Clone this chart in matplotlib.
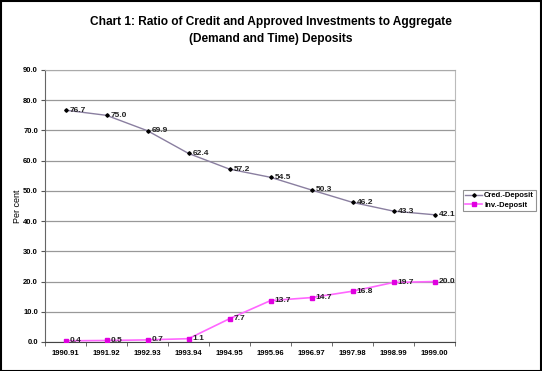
import matplotlib
matplotlib.use("Agg")
import matplotlib.pyplot as plt
from matplotlib.patches import Rectangle

plt.rcParams['font.family'] = ['Liberation Sans', 'DejaVu Sans']

years = ["1990.91", "1991.92", "1992.93", "1993.94", "1994.95", "1995.96",
         "1996.97", "1997.98", "1998.99", "1999.00"]
cred_deposit = [76.7, 75.0, 69.9, 62.4, 57.2, 54.5, 50.3, 46.2, 43.3, 42.1]
inv_deposit = [0.4, 0.5, 0.7, 1.1, 7.7, 13.7, 14.7, 16.8, 19.7, 20.0]
yticks = [0, 10, 20, 30, 40, 50, 60, 70, 80, 90]

fig = plt.figure(figsize=(5.42, 3.71), dpi=100)
ax = fig.add_axes([45/542, 1-342/371, 410/542, 272/371])

x = list(range(len(years)))
ax.plot(x, cred_deposit, color='#8a7fa0', lw=1.0, marker='D', ms=1.8,
        mfc='black', mec='black', label='Cred.-Deposit', zorder=3)
ax.plot(x, inv_deposit, color='#ff66ff', lw=1.2, marker='s', ms=2.6,
        mfc='#e000e0', mec='#e000e0', label='Inv.-Deposit', zorder=3)

for xi, v in zip(x, cred_deposit):
    ax.annotate(f"{v:.1f}", (xi, v), xytext=(3, 0), textcoords='offset points',
                fontsize=6, fontweight='bold', va='center', ha='left', color='#222222')
for xi, v in zip(x, inv_deposit):
    ax.annotate(f"{v:.1f}", (xi, v), xytext=(3, 0), textcoords='offset points',
                fontsize=6, fontweight='bold', va='center', ha='left', color='#222222')

ax.set_xlim(-0.5, len(years) - 0.5)
ax.set_ylim(0, 90)
ax.set_yticks(yticks)
ax.set_yticklabels([f"{t:.1f}" for t in yticks], fontsize=5.5, fontweight='bold')
ax.set_xticks(x)
ax.set_xticklabels(years, fontsize=5.5, fontweight='bold')
ax.tick_params(axis='x', length=0, pad=6)
ax.set_xticks([i + 0.5 for i in range(-1, len(years))], minor=True)
ax.tick_params(axis='x', which='minor', length=3, color='#555555')
ax.tick_params(axis='y', length=3, color='#555555', pad=2)

ax.yaxis.grid(True, color='#999999', lw=0.9)
ax.set_axisbelow(True)
ax.spines['top'].set_color('#aaaaaa')
ax.spines['right'].set_color('#bbbbbb')
ax.spines['right'].set_linestyle((0, (2, 1)))
ax.spines['left'].set_color('#666666')
ax.spines['bottom'].set_color('#444444')

ax.set_ylabel("Per cent", fontsize=6.5)
ax.yaxis.set_label_coords(-0.055, 0.5)

leg = fig.legend(loc='upper left', bbox_to_anchor=(459/542, 1-186/371),
                 frameon=True, fancybox=False, edgecolor='#777777',
                 borderpad=0.3, labelspacing=0.25, handlelength=2.2, handletextpad=0.3,
                 prop={'weight': 'bold', 'size': 5.5})
leg.get_frame().set_linewidth(0.8)

fig.text(0.5, 1-22/371, "Chart 1: Ratio of Credit and Approved Investments to Aggregate",
         ha='center', va='center', fontsize=8.6, fontweight='bold')
fig.text(0.5, 1-39/371, "(Demand and Time) Deposits",
         ha='center', va='center', fontsize=8.6, fontweight='bold')

fig.patches.append(Rectangle((0.001, 0.001), 0.997, 0.997, transform=fig.transFigure,
                             fill=False, edgecolor='black', lw=1.5))

fig.savefig("out.png", dpi=100)
